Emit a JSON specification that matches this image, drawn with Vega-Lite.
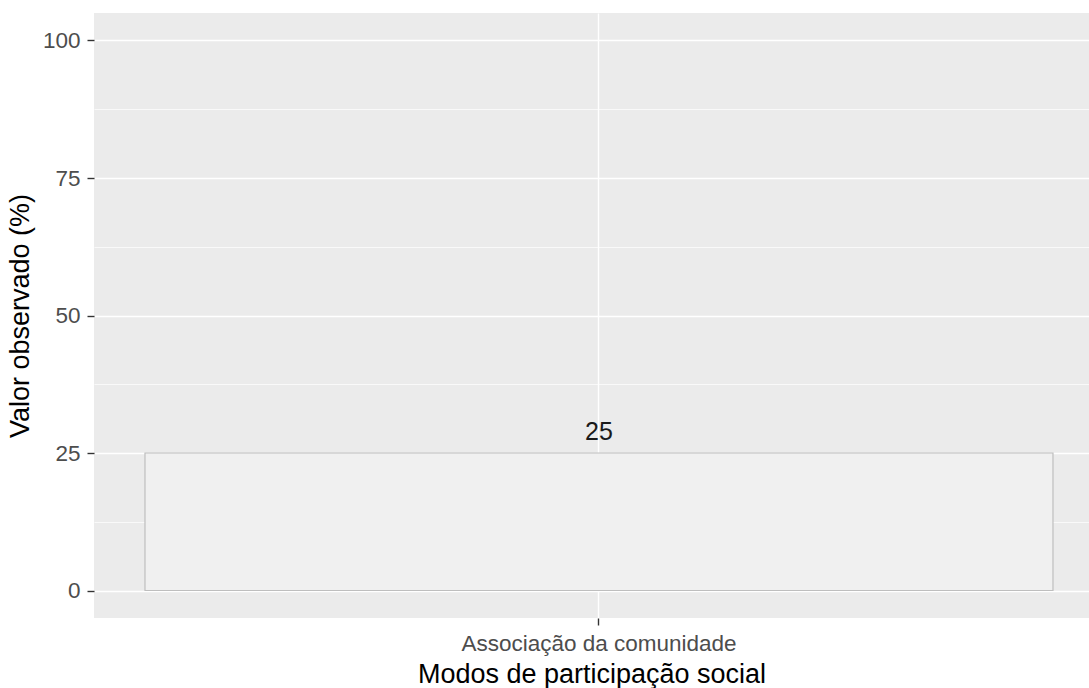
{
  "$schema": "https://vega.github.io/schema/vega-lite/v6.json",
  "width": 995,
  "height": 605,
  "autosize": {"type": "none"},
  "padding": {"left": 94, "top": 13, "right": 0, "bottom": 70},
  "background": "white",
  "config": {
    "view": {"fill": "#EBEBEB", "stroke": null},
    "font": "Liberation Sans",
    "axis": {"labelFont": "Liberation Sans", "titleFont": "Liberation Sans"}
  },
  "data": {"values": [{"modo": "Associação da comunidade", "valor": 25}]},
  "encoding": {
    "x": {
      "field": "modo",
      "type": "nominal",
      "scale": {"paddingInner": 0, "paddingOuter": 0.0479, "align": 0.586},
      "axis": {
        "title": "Modos de participação social",
        "labelAngle": 0,
        "labelLimit": 0,
        "domain": false,
        "tickSize": 7,
        "tickColor": "#333333",
        "tickWidth": 1.4,
        "labelColor": "#4D4D4D",
        "labelFontSize": 22.5,
        "labelPadding": 7,
        "titleFontSize": 27,
        "titleFontWeight": "normal",
        "titleColor": "#000000",
        "titlePadding": 7,
        "grid": true,
        "gridColor": "#FFFFFF",
        "gridWidth": 1.4
      }
    }
  },
  "layer": [
    {
      "mark": {"type": "bar", "fill": "#F0F0F0", "stroke": "#BEBEBE", "strokeWidth": 1.2},
      "encoding": {
        "y": {
          "field": "valor",
          "type": "quantitative",
          "scale": {"domain": [-5, 105], "nice": false, "zero": false},
          "axis": {
            "title": "Valor observado (%)",
            "orient": "left",
            "values": [0, 25, 50, 75, 100],
            "domain": false,
            "tickSize": 7,
            "tickColor": "#333333",
            "tickWidth": 1.4,
            "labelColor": "#4D4D4D",
            "labelFontSize": 22.5,
            "labelPadding": 7,
            "titleFontSize": 27,
            "titleFontWeight": "normal",
            "titleColor": "#000000",
            "titlePadding": 8,
            "grid": true,
            "gridColor": "#FFFFFF",
            "gridWidth": 1.4
          }
        },
        "y2": {"datum": 0}
      }
    },
    {
      "mark": {"type": "text", "baseline": "alphabetic", "dy": -13, "fontSize": 25, "color": "#1A1A1A", "font": "Liberation Sans"},
      "encoding": {
        "y": {
          "field": "valor",
          "type": "quantitative",
          "axis": {
            "orient": "left",
            "title": null,
            "values": [12.5, 37.5, 62.5, 87.5],
            "labels": false,
            "ticks": false,
            "domain": false,
            "grid": true,
            "gridColor": "#FFFFFF",
            "gridWidth": 0.7
          }
        },
        "text": {"field": "valor", "type": "quantitative"}
      }
    }
  ],
  "resolve": {"axis": {"y": "independent"}}
}
